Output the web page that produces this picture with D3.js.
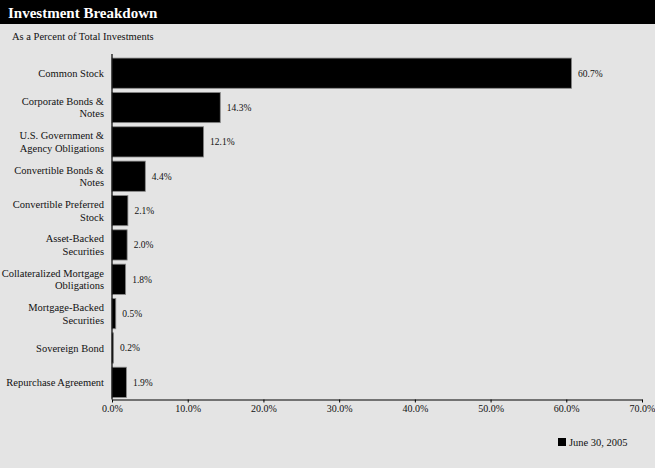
<!DOCTYPE html>
<html><head><meta charset="utf-8">
<script src="https://cdn.jsdelivr.net/npm/d3@7"></script>
<style>
html,body{margin:0;padding:0;background:#e4e4e4;}
svg{display:block;font-family:"Liberation Serif","DejaVu Serif",serif;}
</style></head>
<body>
<svg id="c" width="655" height="468"></svg>
<script>
const categories = [
  ["Common Stock"],
  ["Corporate Bonds &", "Notes"],
  ["U.S. Government &", "Agency Obligations"],
  ["Convertible Bonds &", "Notes"],
  ["Convertible Preferred", "Stock"],
  ["Asset-Backed", "Securities"],
  ["Collateralized Mortgage", "Obligations"],
  ["Mortgage-Backed", "Securities"],
  ["Sovereign Bond"],
  ["Repurchase Agreement"]
];
const values = [60.7, 14.3, 12.1, 4.4, 2.1, 2.0, 1.8, 0.5, 0.2, 1.9];
const tickValues = [0, 10, 20, 30, 40, 50, 60, 70];
const title = "Investment Breakdown";
const subtitle = "As a Percent of Total Investments";
const seriesName = "June 30, 2005";

const svg = d3.select("#c");
svg.append("rect").attr("x",0).attr("y",0).attr("width",655).attr("height",468).attr("fill","#e4e4e4");
svg.append("rect").attr("x",0).attr("y",0).attr("width",655).attr("height",24).attr("fill","#000");
svg.append("text").attr("x",8).attr("y",17.5).attr("fill","#fff")
  .attr("font-size",15).attr("font-weight","bold").text(title);
svg.append("text").attr("x",12).attr("y",40).attr("fill","#111")
  .attr("font-size",10.5).text(subtitle);

const x = d3.scaleLinear().domain([0,70]).range([112,642]);
const idx = d3.range(categories.length);
const y = d3.scaleBand().domain(idx).range([56,399.5]).paddingInner(0.12).paddingOuter(0.06);

const g = svg.append("g");
g.selectAll("rect.bar").data(idx).join("rect").attr("class","bar")
  .attr("x", x(0)).attr("y", i => y(i))
  .attr("width", i => x(values[i]) - x(0))
  .attr("height", y.bandwidth())
  .attr("fill","#000").attr("stroke","#8a8a8a").attr("stroke-width",0.8);

g.selectAll("text.val").data(idx).join("text").attr("class","val")
  .attr("x", i => x(values[i]) + 6.5)
  .attr("y", i => y(i) + y.bandwidth()/2 + 3.5)
  .attr("font-size",9.5).attr("fill","#111")
  .text(i => values[i].toFixed(1) + "%");

const lab = g.selectAll("text.cat").data(idx).join("text").attr("class","cat")
  .attr("text-anchor","end").attr("font-size",10.5).attr("fill","#111");
lab.each(function(i){
  const lines = categories[i];
  const cy = y(i) + y.bandwidth()/2;
  const lh = 12.5;
  const start = cy - (lines.length-1)*lh/2 + 3.7;
  d3.select(this).selectAll("tspan").data(lines).join("tspan")
    .attr("x",104).attr("y",(d,k)=>start + k*lh).text(d=>d);
});

// axes
const xAxis = d3.axisBottom(x).tickValues(tickValues).tickSize(3).tickSizeOuter(0)
  .tickFormat(d => d.toFixed(1) + "%");
const ax = svg.append("g").attr("transform","translate(0,399.5)").call(xAxis);
ax.select(".domain").attr("stroke","#000").attr("stroke-width",1.2);
ax.selectAll(".tick line").attr("stroke","#000");
ax.selectAll(".tick text").attr("font-family","Liberation Serif, serif").attr("font-size",10).attr("fill","#111").attr("dy","0.6em");

svg.append("line").attr("x1",112).attr("x2",112).attr("y1",y(0)-4).attr("y2",399.5)
  .attr("stroke","#000").attr("stroke-width",1.2);

// legend
svg.append("rect").attr("x",558).attr("y",438).attr("width",8).attr("height",8).attr("fill","#000");
svg.append("text").attr("x",569).attr("y",446).attr("font-size",10.5).attr("fill","#111").text(seriesName);
</script>
</body></html>
